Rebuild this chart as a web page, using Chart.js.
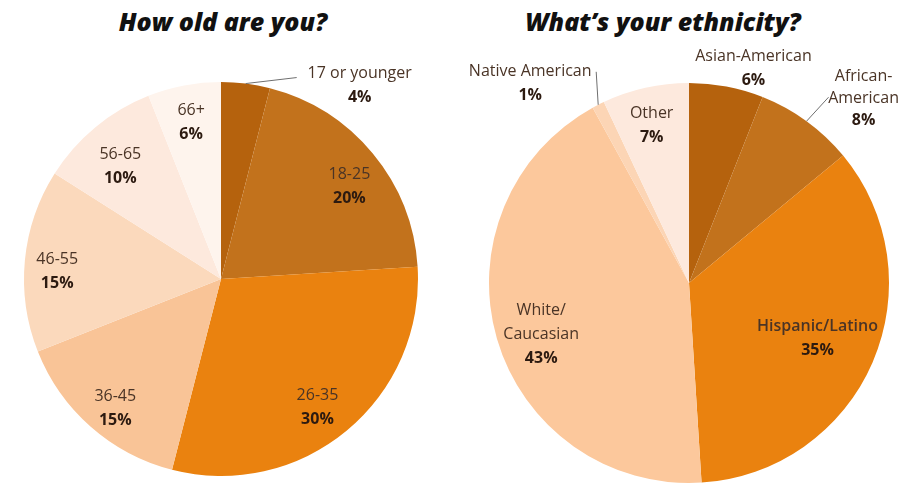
<!DOCTYPE html>
<html>
<head>
<meta charset="utf-8">
<script src="https://cdn.jsdelivr.net/npm/chart.js@4.4.1/dist/chart.umd.min.js"></script>
<style>
  body { margin: 0; background: #fff; width: 898px; height: 486px; overflow: hidden; position: relative; }
  .title { position: absolute; top: 6px; margin: 0; font: italic 800 25px/30px "Open Sans", sans-serif; color: #111; text-align: center; }
  .box { position: absolute; top: 0; width: 449px; height: 486px; }
</style>
</head>
<body>
<h2 class="title" style="left:0;width:446px">How old are you?</h2>
<h2 class="title" style="left:449px;width:428px">What’s your ethnicity?</h2>
<div class="box" style="left:0"><canvas id="age"></canvas></div>
<div class="box" style="left:449px"><canvas id="ethnicity"></canvas></div>
<script>
// Data (percent of respondents)
var ageGroups = ["17 or younger", "18-25", "26-35", "36-45", "46-55", "56-65", "66+"];
var agePercents = [4, 20, 30, 15, 15, 10, 6];

var ethnicGroups = ["Asian-American", ["African-", "American"], "Hispanic/Latino", ["White/", "Caucasian"], "Native American", "Other"];
var ethnicPercents = [6, 8, 35, 43, 1, 7];

var ageColors = ["#b5620d", "#c2721c", "#ea820f", "#f9c497", "#fbd9bc", "#fde9dd", "#fef4ed"];
var ethnicColors = ["#b5620d", "#c2721c", "#ea820f", "#fcc89c", "#fcd5b5", "#fde9dd"];

// label placement: r = fraction of radius along mid angle, dx/dy nudge, leader = line from rim
var agePlace = [
    { r: 1, dx: 114, dy: 1.5, leader: [51, -6] },
    { r: 0.8, dx: 7, dy: 8 },
    { r: 0.8, dx: -4, dy: 7 },
    { r: 0.85, dx: 5, dy: 4 },
    { r: 0.83, dx: -1, dy: 8 },
    { r: 0.77, dx: -4, dy: 4 },
    { r: 0.81, dx: 0, dy: 0 }
];
var ethnicPlace = [
    { r: 1, dx: 27, dy: -18 },
    { r: 1, dx: 57, dy: -23, lh: 22, leader: [22, -24] },
    { r: 0.7, dx: 0, dy: 0, bold: true },
    { r: 0.78, dx: 2, dy: 8 },
    { r: 1, dx: -68, dy: -21, leader: [-2, -33] },
    { r: 0.81, dx: -2, dy: 1 }
];

// Draws the category / percent text on (or next to) each slice
var sliceLabels = {
    id: "sliceLabels",
    afterDatasetsDraw: function (chart, args, opts) {
        var ctx = chart.ctx;
        var meta = chart.getDatasetMeta(0);
        var values = chart.data.datasets[0].data;
        ctx.save();
        meta.data.forEach(function (arc, i) {
            var p = opts.place[i];
            var mid = (arc.startAngle + arc.endAngle) / 2;
            var ex = arc.x + Math.cos(mid) * arc.outerRadius;
            var ey = arc.y + Math.sin(mid) * arc.outerRadius;
            var x = arc.x + Math.cos(mid) * arc.outerRadius * p.r + p.dx;
            var y = arc.y + Math.sin(mid) * arc.outerRadius * p.r + p.dy;
            if (p.leader) {
                ctx.strokeStyle = "#6f6f6f";
                ctx.lineWidth = 1;
                ctx.beginPath();
                ctx.moveTo(ex, ey);
                ctx.lineTo(ex + p.leader[0], ey + p.leader[1]);
                ctx.stroke();
            }
            var name = chart.data.labels[i];
            var lines = Array.isArray(name) ? name : [name];
            var lh = p.lh || 24;
            var y0 = y - lines.length * lh / 2;
            ctx.textAlign = "center";
            ctx.textBaseline = "middle";
            ctx.fillStyle = "#4a3426";
            ctx.font = (p.bold ? "600 " : "") + "16px 'Open Sans'";
            lines.forEach(function (t, k) {
                ctx.fillText(t, x, y0 + k * lh);
            });
            ctx.fillStyle = "#2c1a10";
            ctx.font = "bold 16px 'Open Sans'";
            ctx.fillText(values[i] + "%", x, y0 + lines.length * lh);
        });
        ctx.restore();
    }
};

function makePie(id, labels, values, colors, place, padding) {
    return new Chart(document.getElementById(id), {
        type: "pie",
        data: {
            labels: labels,
            datasets: [{
                data: values,
                backgroundColor: colors,
                borderWidth: 0
            }]
        },
        options: {
            responsive: true,
            maintainAspectRatio: false,
            animation: false,
            layout: { padding: padding },
            plugins: {
                legend: { display: false },
                tooltip: { enabled: false },
                sliceLabels: { place: place }
            }
        },
        plugins: [sliceLabels]
    });
}

makePie("age", ageGroups, agePercents, ageColors, agePlace, { left: 24, right: 31, top: 82, bottom: 10 });
makePie("ethnicity", ethnicGroups, ethnicPercents, ethnicColors, ethnicPlace, { left: 40, right: 9, top: 83, bottom: 3 });
</script>
</body>
</html>
